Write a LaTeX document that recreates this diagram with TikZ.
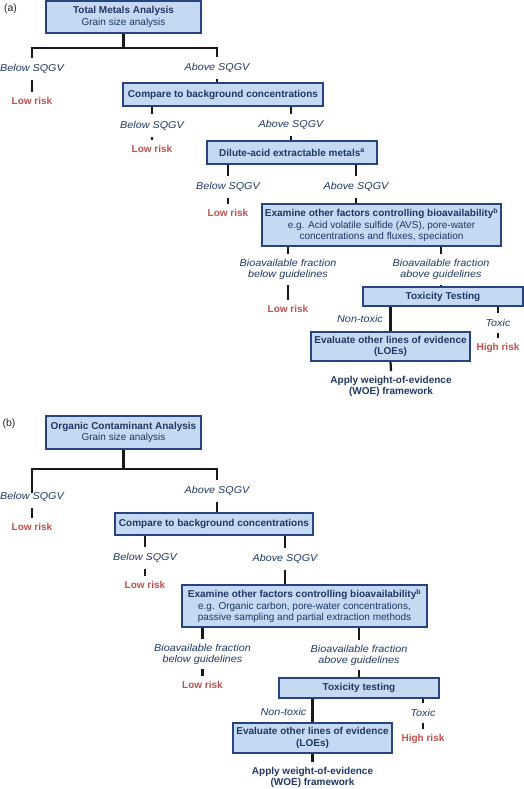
\documentclass[tikz,border=0pt]{standalone}
\usepackage{fontspec}
\setmainfont{Liberation Sans}
\newfontfamily\lblfont{Liberation Sans}[FakeStretch=1.08]
\definecolor{boxfill}{RGB}{197,217,242}
\definecolor{boxline}{RGB}{38,68,128}
\definecolor{navy}{RGB}{31,56,100}
\definecolor{riskred}{RGB}{192,80,77}
\definecolor{lineblack}{RGB}{25,25,25}
\begin{document}
\begin{tikzpicture}[x=1pt,y=-1pt,
  box/.style={draw=boxline, fill=boxfill, line width=1.6pt, inner sep=0pt, align=center, text=navy, font=\fontsize{10}{11.5}\selectfont},
  lbl/.style={font=\lblfont\itshape\fontsize{10}{11}\selectfont, text=navy, inner xsep=1pt, inner ysep=6.5pt, align=center},
  lbltwo/.style={lbl, inner ysep=5pt},
  risk/.style={font=\bfseries\fontsize{10}{12}\selectfont, text=riskred, inner xsep=1pt, inner ysep=5pt},
  woe/.style={font=\bfseries\fontsize{10}{11}\selectfont, text=navy, align=center, inner ysep=5pt},
  tag/.style={font=\fontsize{10.5}{12}\selectfont, text=black!85, inner sep=0pt},
  conn/.style={draw=lineblack, line width=2.2pt}
]
\useasboundingbox (0,0) rectangle (524,789);

% ---------------- panel (a) ----------------
\node[tag] (ta) at (10.5,9) {(a)};
\node[box, minimum width=155, minimum height=32] (A1) at (123.5,17) {\textbf{Total Metals Analysis}\\Grain size analysis};
\node[lbl] (aB1) at (32,69) {Below SQGV};
\node[lbl] (aA1) at (217,68) {Above SQGV};
\node[risk] (aL1) at (32,101) {Low risk};
\node[box, minimum width=200, minimum height=23] (A2) at (223,94.5) {\textbf{Compare to background concentrations}};
\node[lbl] (aB2) at (152,125.5) {Below SQGV};
\node[risk] (aL2) at (152,148.5) {Low risk};
\node[lbl] (aA2) at (291,125) {Above SQGV};
\node[box, minimum width=170, minimum height=23] (A3) at (292,152.5) {\textbf{Dilute-acid extractable metals\textsuperscript{a}}};
\node[lbl] (aB3) at (228,187) {Below SQGV};
\node[risk] (aL3) at (228,213) {Low risk};
\node[lbl] (aA3) at (356,187) {Above SQGV};
\node[box, minimum width=239, minimum height=42] (A4) at (381.5,225) {\textbf{Examine other factors controlling bioavailability\textsuperscript{b}}\\e.g. Acid volatile sulfide (AVS), pore-water\\concentrations and fluxes, speciation};
\node[lbltwo] (aB4) at (288,269.5) {Bioavailable fraction\\below guidelines};
\node[risk] (aL4) at (288,309) {Low risk};
\node[lbltwo] (aA4) at (441,269.5) {Bioavailable fraction\\above guidelines};
\node[box, minimum width=160, minimum height=19] (A5) at (443,296.5) {\textbf{Toxicity Testing}};
\node[lbl] (aN) at (360,319) {Non-toxic};
\node[lbl] (aT) at (498,323) {Toxic};
\node[risk] (aH) at (498,348) {High risk};
\node[box, minimum width=159, minimum height=29] (A6) at (390.5,346.5) {\textbf{Evaluate other lines of evidence}\\\textbf{(LOEs)}};
\node[woe] (aW) at (391,386.5) {Apply weight-of-evidence\\(WOE) framework};

\draw[conn] (A1.south) -- ++(0,14) -| (aB1.north);
\draw[conn] (A1.south) -- ++(0,14) -| (aA1.north);
\draw[conn] (aB1) -- (aL1);
\draw[conn] (aA1.south) -- (aA1.south |- A2.north);
\draw[conn] (A2.south -| aB2) -- (aB2.north);
\draw[conn] (aB2) -- (aL2);
\draw[conn] (A2.south -| aA2) -- (aA2.north);
\draw[conn] (aA2.south) -- (aA2.south |- A3.north);
\draw[conn] (A3.south -| aB3) -- (aB3.north);
\draw[conn] (aB3) -- (aL3);
\draw[conn] (A3.south -| aA3) -- (aA3.north);
\draw[conn] (aA3.south) -- (aA3.south |- A4.north);
\draw[conn] (A4.south -| aB4) -- (aB4.north);
\draw[conn] (aB4) -- (aL4);
\draw[conn] (A4.south -| aA4) -- (aA4.north);
\draw[conn] (aA4.south) -- (aA4.south |- A5.north);
\draw[conn] (A5.south -| A6.north) -- (A6.north);
\draw[conn] (A5.south -| aT) -- (aT.north);
\draw[conn] (aT) -- (aH);
\draw[conn] (A6.south) -- (aW.north);

% ---------------- panel (b) ----------------
\node[tag] (tb) at (9,424) {(b)};
\node[box, minimum width=155, minimum height=33] (B1) at (123.5,432.5) {\textbf{Organic Contaminant Analysis}\\Grain size analysis};
\node[lbl] (bB1) at (32,497) {Below SQGV};
\node[lbl] (bA1) at (217,491) {Above SQGV};
\node[risk] (bL1) at (32,527) {Low risk};
\node[box, minimum width=198, minimum height=22] (B2) at (214,524) {\textbf{Compare to background concentrations}};
\node[lbl] (bB2) at (145,558) {Below SQGV};
\node[risk] (bL2) at (145,585) {Low risk};
\node[lbl] (bA2) at (285,559) {Above SQGV};
\node[box, minimum width=245, minimum height=42] (B3) at (304.5,606) {\textbf{Examine other factors controlling bioavailability\textsuperscript{b}}\\e.g. Organic carbon, pore-water concentrations,\\passive sampling and partial extraction methods};
\node[lbltwo] (bB3) at (202.5,654) {Bioavailable fraction\\below guidelines};
\node[risk] (bL3) at (202.5,685) {Low risk};
\node[lbltwo] (bA3) at (359,655) {Bioavailable fraction\\above guidelines};
\node[box, minimum width=160, minimum height=20] (B4) at (359,688) {\textbf{Toxicity testing}};
\node[lbl] (bN) at (283.5,712) {Non-toxic};
\node[lbl] (bT) at (423,713) {Toxic};
\node[risk] (bH) at (423,739) {High risk};
\node[box, minimum width=159, minimum height=30] (B5) at (312.5,738) {\textbf{Evaluate other lines of evidence}\\\textbf{(LOEs)}};
\node[woe] (bW) at (312.5,777.5) {Apply weight-of-evidence\\(WOE) framework};

\draw[conn, shorten >=-7pt] (B1.south) -- ++(0,19) -| (bB1.north);
\draw[conn] (B1.south) -- ++(0,19) -| (bA1.north);
\draw[conn] (bB1) -- (bL1);
\draw[conn] (bA1.south) -- (bA1.south |- B2.north);
\draw[conn] (B2.south -| bB2) -- (bB2.north);
\draw[conn] (bB2) -- (bL2);
\draw[conn] (B2.south -| bA2) -- (bA2.north);
\draw[conn] (bA2.south) -- (bA2.south |- B3.north);
\draw[conn] (B3.south -| bB3) -- (bB3.north);
\draw[conn] (bB3) -- (bL3);
\draw[conn] (B3.south -| bA3) -- (bA3.north);
\draw[conn] (bA3.south) -- (bA3.south |- B4.north);
\draw[conn] (B4.south -| B5.north) -- (B5.north);
\draw[conn] (B4.south -| bT) -- (bT.north);
\draw[conn] (bT) -- (bH);
\draw[conn] (B5.south) -- (bW.north);
\end{tikzpicture}
\end{document}
